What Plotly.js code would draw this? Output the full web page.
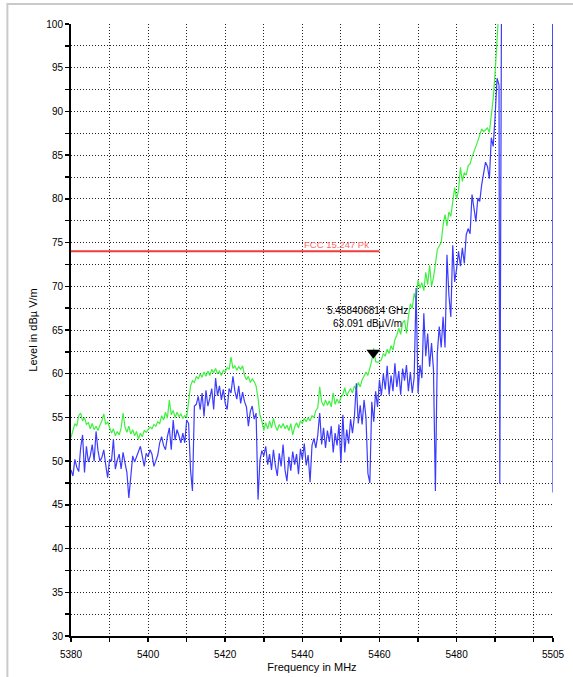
<!DOCTYPE html>
<html>
<head>
<meta charset="utf-8">
<script src="https://cdn.plot.ly/plotly-3.0.1.min.js"></script>
<style>
html,body{margin:0;padding:0;background:#fff;}
#chart{width:573px;height:677px;}
</style>
</head>
<body>
<div id="chart"></div>
<script>
// Sampling of the measured traces (MHz)
const freqStart = 5380;
const freqStep = 0.5;

// Peak detector trace (green), dBµV/m, one value per 0.5 MHz from 5380 MHz
const peakLevel = [
  52.7,53.6,54.3,54.0,55.2,55.5,54.6,55.0,54.2,54.4, 53.7,54.3,53.6,54.0,53.5,54.1,54.6,55.4,54.2,54.5,
  53.8,53.2,53.7,52.9,53.4,53.0,53.8,55.5,53.9,53.3, 54.0,53.1,53.6,52.9,53.4,52.5,53.2,52.8,53.5,53.3,
  53.6,53.9,53.7,54.2,54.0,54.5,54.3,55.2,54.7,55.6, 54.9,57.0,55.3,55.8,55.0,55.6,55.1,55.4,54.9,55.2,
  55.0,57.2,58.6,59.2,59.0,59.7,59.4,60.0,59.6,60.2, 59.7,60.3,59.8,60.5,60.1,60.6,60.0,60.3,59.8,60.4,
  60.2,60.7,60.5,61.9,60.6,60.9,60.4,60.8,60.5,60.9, 59.8,59.3,59.7,59.0,59.4,59.1,58.6,57.2,55.3,54.6,
  53.5,54.4,53.7,54.6,53.8,54.9,54.0,53.5,54.2,53.8, 54.3,53.7,54.1,53.5,54.3,53.0,53.9,54.4,53.8,54.6,
  54.3,54.9,54.5,55.0,54.6,55.2,55.0,55.8,56.1,58.5, 56.8,56.3,57.0,56.4,56.9,56.2,57.8,56.5,57.1,56.6,
  57.3,57.6,58.4,57.5,57.9,58.3,57.8,58.6,58.2,59.0, 58.5,59.3,59.7,60.2,59.8,60.8,61.5,62.9,61.4,61.3,
  61.4,61.6,62.3,62.0,62.8,62.3,63.2,62.7,63.9,64.4, 65.2,64.5,65.8,66.1,64.6,66.5,68.0,67.5,69.2,68.4,
  70.7,69.8,70.4,69.5,71.6,70.2,72.4,70.0,71.0,72.5, 74.2,74.6,75.0,77.0,78.2,76.9,78.5,78.0,79.8,81.3,
  80.0,81.0,83.6,82.0,83.0,82.7,83.8,84.0,84.8,85.5, 86.0,86.6,87.2,88.0,87.7,87.9,88.1,87.6,89.4,91.5,
  94.5,98.0,102,108
];

// Average detector trace (blue), dBµV/m, one value per 0.5 MHz from 5380 MHz
const avgLevel = [
  49.0,48.3,50.2,49.3,48.8,51.5,53.0,48.7,51.7,49.9, 50.6,51.9,50.0,53.4,51.2,50.0,50.4,51.3,49.6,48.1,
  50.2,50.0,52.5,49.1,50.1,50.8,49.1,51.0,49.8,48.7, 45.8,47.9,50.6,49.9,50.4,51.1,51.7,50.3,49.4,50.9,
  50.5,51.3,50.8,49.4,50.2,50.7,52.1,52.8,51.8,51.3, 52.8,53.8,51.3,54.7,52.4,53.6,52.9,52.1,53.2,52.1,
  54.7,54.3,49.0,46.6,56.3,56.5,57.4,55.9,57.8,55.1, 58.1,56.3,57.2,58.3,55.9,59.5,57.5,58.6,57.0,58.2,
  56.6,55.9,58.3,57.8,59.7,58.0,57.1,58.6,56.6,57.9, 56.8,56.2,54.0,55.7,56.3,54.8,55.5,45.6,50.1,51.2,
  50.6,51.7,49.6,50.8,49.0,51.3,49.5,48.3,50.9,49.4, 51.9,49.0,47.7,50.5,48.9,51.1,49.6,50.8,48.5,51.4,
  50.2,52.0,49.5,50.7,47.6,51.8,52.6,51.5,53.0,55.5, 51.9,53.8,51.5,53.5,52.2,54.0,51.0,53.2,51.8,54.2,
  49.8,55.3,51.0,53.6,52.0,54.8,53.2,55.1,58.9,54.3, 56.4,54.2,57.0,55.0,48.6,47.5,56.8,54.5,58.0,56.2,
  59.3,57.5,60.0,58.2,60.9,57.6,59.8,58.0,61.2,58.5, 60.3,57.6,60.6,59.2,61.0,58.0,60.2,57.8,59.6,69.8,
  57.8,61.0,59.5,66.9,62.0,64.6,60.8,63.5,60.5,46.6, 62.3,65.4,63.0,66.5,63.0,73.6,69.0,66.5,74.7,70.5,
  72.0,74.0,72.3,74.4,72.6,75.9,76.6,76.0,80.5,78.6, 77.4,80.1,79.7,81.6,82.8,84.2,83.7,82.3,87.0,86.0,
  89.6,93.8,93.0
];

// Average trace continuation beyond the carrier (goes off scale, returns at the band edge)
const avgTailFreq  = [5491.0, 5491.2, 5491.7, 5504.9, 5505.0];
const avgTailLevel = [93.0, 47.4, 110, 110, 46.4];

// Limit line
const limitFreq  = [5380, 5460];
const limitLevel = [74, 74];
const limitLabel = 'FCC 15.247 Pk';

// Marker
const markerFreq  = 5458.406814;
const markerLevel = 63.091;

// Axis ticks
const xTickVals  = [5380, 5400, 5420, 5440, 5460, 5480, 5505];
const xTickText  = ['5380', '5400', '5420', '5440', '5460', '5480', '5505'];
const xMinorVals = [5390, 5410, 5430, 5450, 5470, 5490, 5500];

const FONT = 'Liberation Sans, Arial, sans-serif';
const GRID = '#222';
const DOT = '1px,2px';

const traces = [
  {type:'scatter', mode:'lines', x0:freqStart, dx:freqStep, y:peakLevel,
   line:{color:'#40f040', width:1.2}, hoverinfo:'skip'},
  {type:'scatter', mode:'lines', x0:freqStart, dx:freqStep, y:avgLevel,
   line:{color:'#3c3cff', width:1.2}, hoverinfo:'skip'},
  {type:'scatter', mode:'lines', x:avgTailFreq, y:avgTailLevel,
   line:{color:'#3c3cff', width:1.2}, hoverinfo:'skip'},
  {type:'scatter', mode:'lines', x:limitFreq, y:limitLevel,
   line:{color:'#f03c3c', width:2}, hoverinfo:'skip'},
  {type:'scatter', mode:'markers', x:[markerFreq], y:[markerLevel],
   marker:{symbol:'triangle-down', size:12, color:'#000', angle:0, standoff:6}, cliponaxis:false, hoverinfo:'skip'}
];

const layout = {
  width:573, height:677,
  margin:{l:71, r:20, t:24, b:41},
  paper_bgcolor:'#fff', plot_bgcolor:'#fff',
  showlegend:false,
  font:{family:FONT, size:10, color:'#000'},
  xaxis:{
    range:[5380, 5505], tickmode:'array', tickvals:xTickVals, ticktext:xTickText,
    ticks:'outside', ticklen:4, tickwidth:1.5, tickcolor:'#000',
    showline:true, linecolor:'#000', linewidth:2, zeroline:false,
    showgrid:true, gridcolor:GRID, griddash:DOT, gridwidth:1,
    ticklabelstandoff:4,
    minor:{tickmode:'array', tickvals:xMinorVals, ticks:'outside', ticklen:4, tickwidth:1.5, tickcolor:'#000',
           showgrid:true, gridcolor:GRID, griddash:DOT, gridwidth:1},
    tickfont:{family:FONT, size:10, color:'#000'},
    title:{text:'Frequency in MHz', font:{family:FONT, size:11, color:'#000'}, standoff:4}
  },
  yaxis:{
    range:[30, 100], tickmode:'linear', tick0:30, dtick:5,
    ticks:'outside', ticklen:4, tickwidth:1.5, tickcolor:'#000',
    showline:true, linecolor:'#000', linewidth:2, zeroline:false,
    showgrid:true, gridcolor:GRID, griddash:DOT, gridwidth:1,
    minor:{dtick:2.5, ticks:'outside', ticklen:4, tickwidth:1.5, tickcolor:'#000',
           showgrid:true, gridcolor:GRID, griddash:DOT, gridwidth:1},
    tickfont:{family:FONT, size:10, color:'#000'},
    title:{text:'Level in dBµ V/m', font:{family:FONT, size:11, color:'#000'}, standoff:6}
  },
  shapes:[
    {type:'rect', xref:'paper', yref:'paper', x0:-0.132, x1:1.2, y0:-0.2, y1:1.0327,
     line:{color:'#cacaca', width:2}, fillcolor:'rgba(0,0,0,0)'}
  ],
  annotations:[
    {x:limitFreq[1], y:limitLevel[1], xref:'x', yref:'y', text:limitLabel, showarrow:false,
     xanchor:'right', yanchor:'bottom', xshift:-9, yshift:0, borderpad:0,
     font:{family:FONT, size:9.5, color:'#ff6a6a'}},
    {x:markerFreq, y:markerLevel, xref:'x', yref:'y',
     text:(markerFreq/1000).toFixed(9) + ' GHz<br>' + markerLevel.toFixed(3) + ' dBµV/m',
     showarrow:false, xanchor:'center', yanchor:'bottom', align:'center', xshift:-6, yshift:16,
     font:{family:FONT, size:10, color:'#000'}}
  ]
};

Plotly.newPlot('chart', traces, layout, {staticPlot:true, displayModeBar:false});
</script>
</body>
</html>
